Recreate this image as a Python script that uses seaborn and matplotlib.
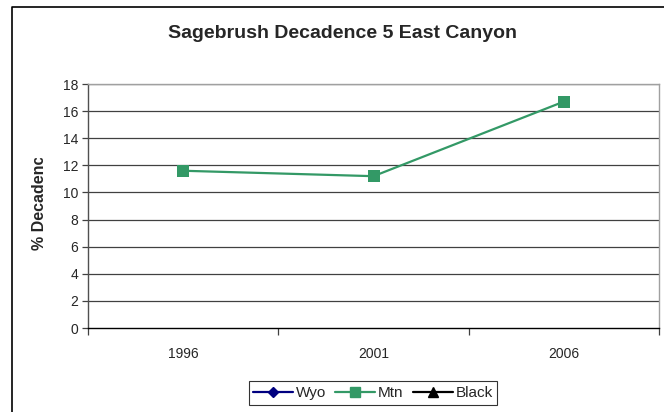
import seaborn as sns
import pandas as pd
import matplotlib.pyplot as plt
from matplotlib.lines import Line2D
from matplotlib.patches import Rectangle

# Chart data
years = ['1996', '2001', '2006']
mtn = [11.6, 11.2, 16.7]
series_names = ['Wyo', 'Mtn', 'Black']
y_ticks = [0, 2, 4, 6, 8, 10, 12, 14, 16, 18]

df = pd.DataFrame({'year': years, 'decadence': mtn})

sns.set_style('white')
plt.rcParams['font.family'] = ['Liberation Sans', 'DejaVu Sans']

fig = plt.figure(figsize=(6.64, 4.12), dpi=100)
ax = fig.add_axes([88 / 664, 84 / 412, 571 / 664, 244 / 412])

# horizontal gridlines
for t in y_ticks[1:]:
    ax.axhline(t, color='#404040', lw=0.9, zorder=1)

sns.lineplot(data=df, x='year', y='decadence', ax=ax, color='#339966',
             marker='s', markersize=8.5, markeredgewidth=0, lw=1.6, zorder=3)

ax.set_ylim(0, 18)
ax.set_xlim(-0.5, 2.5)
ax.set_yticks(y_ticks)
ax.set_xticks(range(len(years)))
ax.set_xticklabels(years)
ax.set_xticks([-0.5, 0.5, 1.5, 2.5], minor=True)
ax.tick_params(axis='x', which='major', length=0, pad=14, labelsize=10)
ax.tick_params(axis='x', which='minor', length=5, width=0.9, color='#404040', direction='out', bottom=True)
ax.tick_params(axis='y', length=4, width=0.9, color='#404040', direction='out', left=True, labelsize=10, pad=3)
ax.set_xlabel('')
ax.set_ylabel('')

for side in ['top', 'right']:
    ax.spines[side].set_color('#a0a0a0')
    ax.spines[side].set_linewidth(1.0)
ax.spines['left'].set_color('#505050')
ax.spines['bottom'].set_color('black')
for side in ['left', 'bottom']:
    ax.spines[side].set_linewidth(1.0)

fig.text(342 / 664, 1 - 33 / 412, 'Sagebrush Decadence 5 East Canyon',
         ha='center', va='center', fontsize=14, fontweight='bold')

# y label, cut off at the top as in the original chart
fig.text(40 / 664, 1 - 250 / 412, '% Decadence', rotation=90,
         ha='center', va='bottom', fontsize=11.5, fontweight='bold')
fig.add_artist(Rectangle((22 / 664, 1 - 157 / 412), 36 / 664, 60 / 412,
                         transform=fig.transFigure, color='white', zorder=5))

handles = [
    Line2D([], [], color='#000080', marker='D', markersize=5, lw=1.6),
    Line2D([], [], color='#339966', marker='s', markersize=7.5, lw=1.6),
    Line2D([], [], color='black', marker='^', markersize=6.5, lw=1.6),
]
leg = fig.legend(handles, series_names, loc='center', bbox_to_anchor=(373 / 664, 19 / 412),
                 ncol=3, fontsize=11, frameon=True, fancybox=False, handlelength=2.6,
                 handletextpad=0.2, columnspacing=0.6, borderpad=0.3)
leg.get_frame().set_edgecolor('black')
leg.get_frame().set_linewidth(0.8)

# outer chart border (left and top visible)
fig.add_artist(Line2D([12 / 664, 12 / 664, 1], [0, 1 - 7 / 412, 1 - 7 / 412],
                      color='black', lw=1.2, transform=fig.transFigure))

fig.savefig('out.png', dpi=100)
